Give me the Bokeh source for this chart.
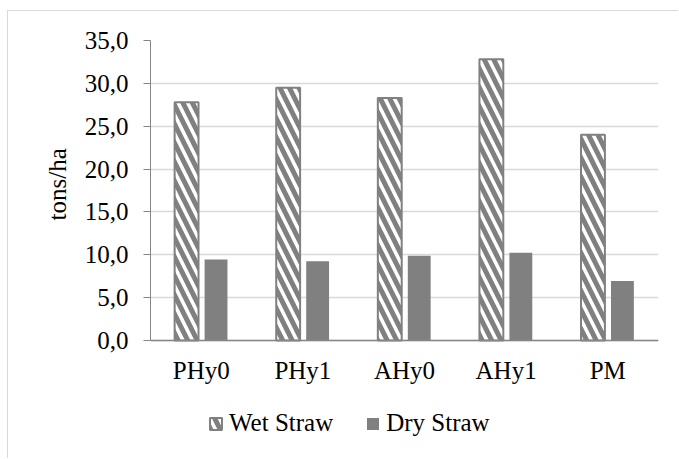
from bokeh.plotting import figure
from bokeh.models import (ColumnDataSource, FactorRange, Range1d, Legend, LegendItem, FixedTicker,
                          CustomJSTickFormatter)
from bokeh.transform import dodge
from bokeh.embed import file_html
from bokeh.resources import INLINE

categories = ["PHy0", "PHy1", "AHy0", "AHy1", "PM"]
wet_straw = [27.8, 29.5, 28.3, 32.8, 24.0]
dry_straw = [9.45, 9.25, 9.9, 10.25, 6.95]
series_names = ["Wet Straw", "Dry Straw"]
y_label = "tons/ha"
y_ticks = [0, 5, 10, 15, 20, 25, 30, 35]

src = ColumnDataSource(dict(cat=categories, wet=wet_straw, dry=dry_straw))

FONT = "Liberation Serif"
FS = "25px"
GREY = "#808080"
AXIS = "#868686"

# frame: 300 px for 0..35, extended below 0 to hold labels and legend
PX_PER_UNIT = 300 / 35
FRAME_H = 448 - 29
Y_MIN = 35 - FRAME_H / PX_PER_UNIT

p = figure(x_range=FactorRange(*categories, range_padding=0), y_range=Range1d(Y_MIN, 35),
           width=671, height=448, output_backend="svg", toolbar_location=None,
           min_border_left=142, min_border_right=21, min_border_top=29, min_border_bottom=0)
p.styles = {"margin-left": "7px", "margin-top": "10px",
            "border-left": "1px solid #d9d9d9", "border-top": "1px solid #d9d9d9"}
p.outline_line_color = None
p.background_fill_color = "white"
p.border_fill_color = "white"

r_wet = p.vbar(x=dodge("cat", -0.145, range=p.x_range), top="wet", bottom=0, width=0.235, source=src,
               fill_color="white", line_color=GREY, line_width=2,
               hatch_pattern="\\", hatch_color=GREY, hatch_weight=5, hatch_scale=19)
r_dry = p.vbar(x=dodge("cat", 0.145, range=p.x_range), top="dry", bottom=0, width=0.225, source=src,
               fill_color=GREY, line_color=GREY, line_width=0)

# grid
p.xgrid.grid_line_color = None
p.ygrid.ticker = FixedTicker(ticks=y_ticks)
p.ygrid.grid_line_color = "#d9d9d9"
p.ygrid.grid_line_width = 1.5

# y axis
p.yaxis.ticker = FixedTicker(ticks=y_ticks)
p.yaxis.bounds = (0, 35)
p.yaxis.formatter = CustomJSTickFormatter(code="return tick.toFixed(1).replace('.', ',');")
p.yaxis.axis_line_color = AXIS
p.yaxis.major_tick_line_color = AXIS
p.yaxis.major_tick_out = 7
p.yaxis.major_tick_in = 0
p.yaxis.minor_tick_line_color = None
p.yaxis.major_label_standoff = 15
p.yaxis.major_label_text_font = FONT
p.yaxis.major_label_text_font_size = FS
p.yaxis.major_label_text_color = "black"
# the frame reaches below zero, so lift the centred label to the middle of 0..35
p.yaxis.axis_label = "\u00a0" * 21 + y_label
p.yaxis.axis_label_text_font = FONT
p.yaxis.axis_label_text_font_size = FS
p.yaxis.axis_label_text_font_style = "normal"
p.yaxis.axis_label_text_color = "black"
p.yaxis.axis_label_standoff = 11

# x axis at y = 0
p.xaxis.fixed_location = 0
p.xaxis.axis_line_color = AXIS
p.xaxis.axis_line_width = 1.5
p.xaxis.major_tick_line_color = None
p.xaxis.major_tick_out = 0
p.xaxis.major_tick_in = 0
p.xaxis.minor_tick_line_color = None
p.xaxis.major_label_standoff = 16
p.xaxis.major_label_text_font = FONT
p.xaxis.major_label_text_font_size = FS
p.xaxis.major_label_text_color = "black"

# legend
legend = Legend(items=[LegendItem(label=series_names[0], renderers=[r_wet]),
                       LegendItem(label=series_names[1], renderers=[r_dry])],
                orientation="horizontal", location=(58, 22),
                label_text_font=FONT, label_text_font_size=FS, label_text_color="black",
                glyph_width=15, glyph_height=15, label_standoff=6, spacing=32,
                padding=0, margin=0, border_line_color=None, background_fill_alpha=0)
p.add_layout(legend, "center")

open("out.html", "w").write(file_html(p, INLINE))
